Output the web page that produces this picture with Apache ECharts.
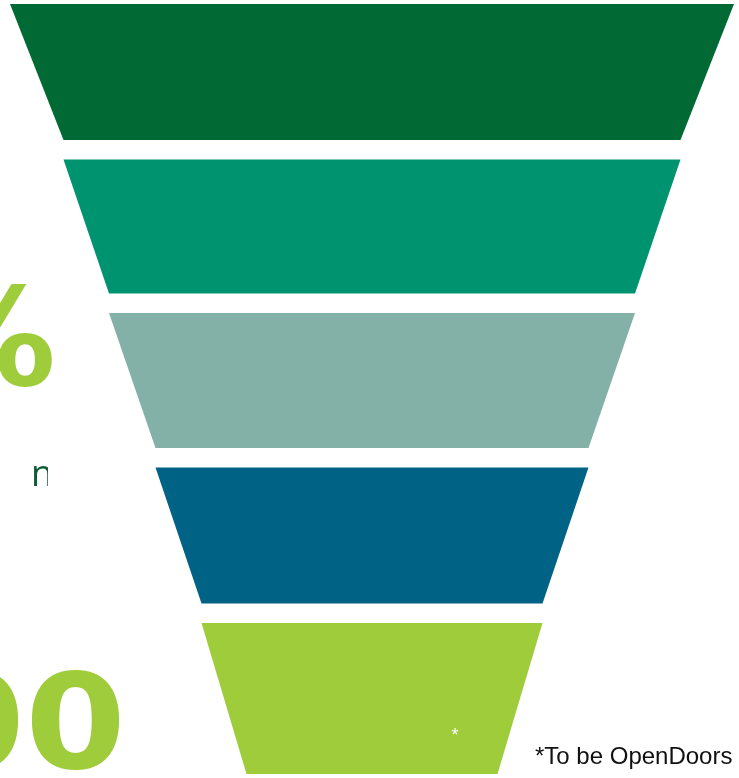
<!DOCTYPE html>
<html>
<head>
<meta charset="utf-8">
<script src="https://cdn.jsdelivr.net/npm/echarts@6/dist/echarts.min.js"></script>
<style>
html,body{margin:0;padding:0;background:#ffffff;}
#chart{width:739px;height:778px;}
</style>
</head>
<body>
<div id="chart"></div>
<script>
// Funnel stages (values proportional to the drawn stage widths)
const stageNames = ['Stage 1', 'Stage 2', 'Stage 3', 'Stage 4', 'Stage 5'];
const stageValues = [724, 617, 526, 433, 341];
const funnelEndValue = 251;           // width of the bottom edge of the last stage
const stageColors = ['#006934', '#00936F', '#84B1A7', '#006385', '#9ECC3B'];

// Texts visible in the picture
const bigPercentText = '%';
const bigNumberText = '00';
const smallClippedText = 'n';
const footnoteText = '*To be OpenDoors';
const starText = '*';

const stageHeights = [136, 134, 135, 136, 151];

const data = stageNames.map((name, i) => ({
  name: name,
  value: stageValues[i],
  itemStyle: { color: stageColors[i], height: stageHeights[i], borderWidth: 0 }
}));
data.push({
  name: 'end',
  value: funnelEndValue,
  itemStyle: { color: 'rgba(0,0,0,0)', height: 0, borderWidth: 0 },
  label: { show: false }
});

const chart = echarts.init(document.getElementById('chart'), null, { renderer: 'canvas' });
chart.setOption({
  backgroundColor: '#ffffff',
  animation: false,
  series: [{
    type: 'funnel',
    left: 10,
    top: 4,
    width: 724,
    height: 770,
    min: 0,
    max: 724,
    minSize: '0%',
    maxSize: '100%',
    sort: 'descending',
    gap: 19.5,
    silent: true,
    label: { show: false },
    labelLine: { show: false },
    emphasis: { disabled: true },
    data: data
  }],
  graphic: [
    {
      type: 'text', x: 56, y: 350, z: 10,
      style: { text: bigPercentText, font: 'bold 136px "DejaVu Sans"', fill: '#9ECC3B', align: 'right', verticalAlign: 'middle' }
    },
    {
      type: 'text', x: 126, y: 734, z: 10, scaleX: 1.1,
      style: { text: bigNumberText, font: 'bold 132px "DejaVu Sans"', fill: '#9ECC3B', align: 'right', verticalAlign: 'middle' }
    },
    {
      type: 'text', x: 31, y: 476, z: 10,
      style: { text: smallClippedText, font: '36px "Open Sans"', fill: '#0B5B35', align: 'left', verticalAlign: 'middle' }
    },
    {
      type: 'rect', z: 11,
      shape: { x: 48, y: 455, width: 40, height: 45 },
      style: { fill: '#ffffff' }
    },
    {
      type: 'text', x: 535, y: 757.5, z: 10,
      style: { text: footnoteText, font: '24px "Liberation Sans"', fill: '#111111', align: 'left', verticalAlign: 'middle' }
    },
    {
      type: 'text', x: 455, y: 736, z: 10,
      style: { text: starText, font: '18px "Liberation Sans"', fill: '#ffffff', align: 'center', verticalAlign: 'middle' }
    }
  ]
});
</script>
</body>
</html>
